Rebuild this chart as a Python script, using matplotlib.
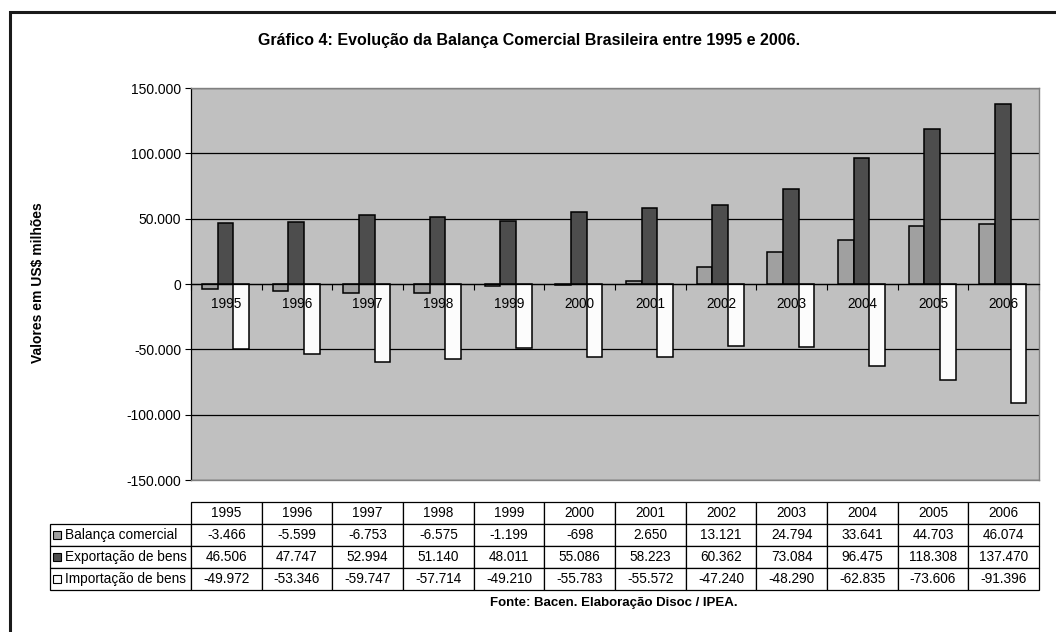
import matplotlib
matplotlib.use("Agg")
import matplotlib.pyplot as plt
from matplotlib.patches import Rectangle
from matplotlib.ticker import FuncFormatter, FixedLocator
import matplotlib.transforms as mtransforms
import numpy as np

plt.rcParams['font.family'] = ['Liberation Sans', 'DejaVu Sans']

years = ['1995', '1996', '1997', '1998', '1999', '2000', '2001', '2002', '2003', '2004', '2005', '2006']
balanca = [-3466, -5599, -6753, -6575, -1199, -698, 2650, 13121, 24794, 33641, 44703, 46074]
exportacao = [46506, 47747, 52994, 51140, 48011, 55086, 58223, 60362, 73084, 96475, 118308, 137470]
importacao = [-49972, -53346, -59747, -57714, -49210, -55783, -55572, -47240, -48290, -62835, -73606, -91396]
series_names = ['Balança comercial', 'Exportação de bens', 'Importação de bens']
series_colors = ['#A0A0A0', '#4D4D4D', '#FCFCFC']

title = 'Gráfico 4: Evolução da Balança Comercial Brasileira entre 1995 e 2006.'
ylabel = 'Valores em US$ milhões'
source = 'Fonte: Bacen. Elaboração Disoc / IPEA.'


def fmt(v):
    return f"{int(v):,}".replace(',', '.')


W, H = 1056, 632
fig = plt.figure(figsize=(W / 100, H / 100), dpi=100)
fig.patch.set_facecolor('white')

# outer frame (only top and left visible)
fig.add_artist(Rectangle((10 / W, -0.2), 1.5, 1.2 - 12 / H, transform=fig.transFigure,
                         fill=False, edgecolor='#1a1a1a', linewidth=2.2))

L, R, T, B = 191, 1039, 88, 480
ax = fig.add_axes([L / W, 1 - B / H, (R - L) / W, (B - T) / H])
ax.set_facecolor('#C0C0C0')
ax.set_axisbelow(True)

x = np.arange(len(years))
bw = 0.222
all_series = [balanca, exportacao, importacao]
for k, (vals, col) in enumerate(zip(all_series, series_colors)):
    ax.bar(x + (k - 1) * bw - 0.012, vals, width=bw, color=col, edgecolor='black',
           linewidth=1.1, zorder=2)

ax.set_xlim(-0.5, len(years) - 0.5)
ax.set_ylim(-150000, 150000)
ax.set_yticks(np.arange(-150000, 150001, 50000))
ax.yaxis.set_major_formatter(FuncFormatter(lambda v, p: fmt(v)))
ax.tick_params(axis='y', direction='out', length=4, width=0.8, labelsize=10, pad=3, colors='black')
ax.yaxis.grid(True, color='black', linewidth=0.9)

# x axis at zero
ax.spines['bottom'].set_position(('data', 0))
ax.spines['bottom'].set_color('black')
ax.spines['bottom'].set_linewidth(0.9)
ax.spines['bottom'].set_zorder(3)
ax.spines['left'].set_color('black')
ax.spines['left'].set_linewidth(0.9)
for s in ['top', 'right']:
    ax.spines[s].set_color('#808080')
    ax.spines[s].set_linewidth(1.0)
ax.axhline(-150000, color='#808080', linewidth=1.0, zorder=3, clip_on=False)

ax.xaxis.set_major_locator(FixedLocator(np.arange(-0.5, len(years), 1.0)))
ax.set_xticklabels([])
ax.tick_params(axis='x', which='major', direction='out', length=4, width=0.8)
ax.tick_params(axis='x', which='minor', length=0)
offset = mtransforms.ScaledTranslation(0, -20.5 / 100, fig.dpi_scale_trans)
for i, yr in enumerate(years):
    ax.text(i, 0, yr, transform=ax.transData + offset,
            ha='center', va='center', fontsize=9.8, zorder=5)

# data table
lab_w = (L - 50) / (R - L)
col_w = 1.0 / len(years)
top_y = (B - 502) / (B - T)
bot_y = (B - 590) / (B - T)
rows = [[''] + years]
for name, vals in zip(series_names, all_series):
    rows.append([name] + [fmt(v) for v in vals])
tab = ax.table(cellText=rows, cellLoc='center', colWidths=[lab_w] + [col_w] * len(years),
               bbox=[-lab_w, bot_y, 1 + lab_w, top_y - bot_y])
tab.auto_set_font_size(False)
tab.set_fontsize(9.8)
for (r, c), cell in tab.get_celld().items():
    cell.set_edgecolor('black')
    cell.set_linewidth(0.9)
    cell.set_facecolor('white')
tab[0, 0].visible_edges = 'open'
for r in range(1, 4):
    cell = tab[r, 0]
    cell._loc = 'left'
    cell.PAD = 15 / (L - 50)
    cell.get_text().set_ha('left')

# legend keys
sq_w = 8 / (R - L)
sq_h = 8 / (B - T)
row_centers = [535, 557, 579]
for yc, col in zip(row_centers, series_colors):
    yax = (B - yc) / (B - T)
    ax.add_patch(Rectangle(((53 - L) / (R - L), yax - sq_h / 2), sq_w, sq_h,
                           transform=ax.transAxes, clip_on=False, facecolor=col,
                           edgecolor='black', linewidth=0.8, zorder=6))

fig.text(529 / W, 1 - 40 / H, title, ha='center', va='center', fontsize=11.5, fontweight='bold')
fig.text(38 / W, 1 - 283 / H, ylabel, ha='center', va='center', fontsize=10,
         fontweight='bold', rotation=90)
fig.text(614 / W, 1 - 603 / H, source, ha='center', va='center', fontsize=9.5, fontweight='bold')

fig.savefig('out.png', dpi=100, facecolor='white')
